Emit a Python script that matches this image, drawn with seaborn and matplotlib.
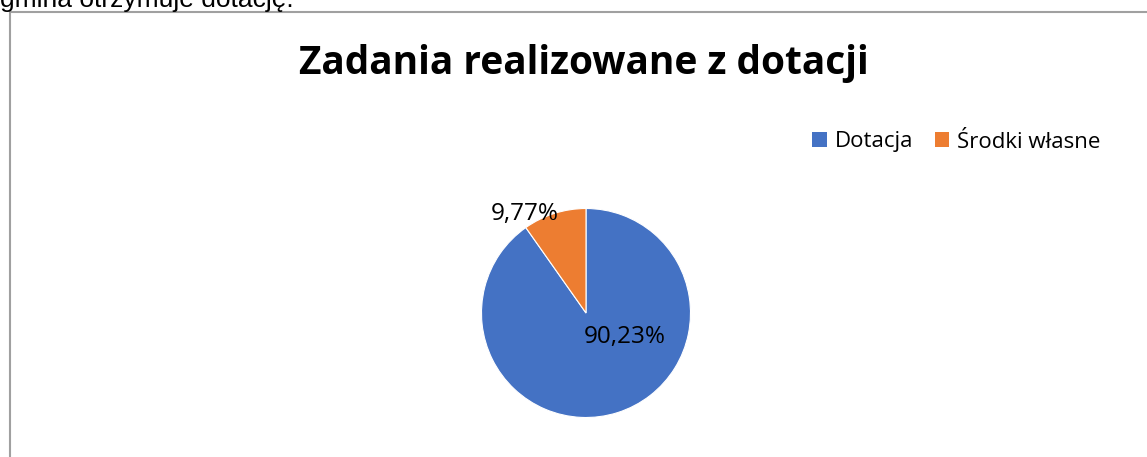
import matplotlib
matplotlib.use("Agg")
import matplotlib.pyplot as plt
from matplotlib.patches import Patch, Rectangle
import seaborn as sns

categories = ["Dotacja", "Środki własne"]
shares = [90.23, 9.77]
share_labels = ["90,23%", "9,77%"]
colors = ["#4472C4", "#ED7D31"]
title = "Zadania realizowane z dotacji"
top_text = "gmina otrzymuje dotację."

sns.set_style("white")
plt.rcParams["font.family"] = ["Open Sans", "DejaVu Sans"]
plt.rcParams["text.color"] = "black"

W, H = 1147, 457
fig = plt.figure(figsize=(W / 100, H / 100), dpi=100)
fig.patch.set_facecolor("white")

# cut-off text line above the chart box
fig.text(0.0, 1 - 7 / H, top_text, family=["Liberation Sans", "DejaVu Sans"],
         fontsize=19, va="baseline", ha="left", color="black")

# chart frame
fig.patches.append(Rectangle((9.5 / W, -0.1), 1.2, 1 - 12.5 / H + 0.1,
                             transform=fig.transFigure, fill=False,
                             edgecolor="#a0a0a0", linewidth=1.5))

fig.text(584 / W, 1 - 74 / H, title, fontsize=28, fontweight="bold",
         ha="center", va="baseline", color="black")

# pie: radius 104.5 px centred at (586, 313)
r = 104.5
ax = fig.add_axes([(586 - r) / W, (H - 313 - r) / H, 2 * r / W, 2 * r / H])
wedges, texts = ax.pie(shares, colors=colors, startangle=90, counterclock=False,
                       labels=share_labels, labeldistance=1.0,
                       wedgeprops=dict(edgecolor="white", linewidth=0.8))
ax.set_xlim(-1, 1)
ax.set_ylim(-1, 1)
ax.set_aspect("equal")
ax.axis("off")

label_pos = [(0.37, -0.23), (-0.59, 0.95)]
for t, pos in zip(texts, label_pos):
    t.set_position(pos)
    t.set_ha("center")
    t.set_va("center")
    t.set_fontsize(17.5)
    t.set_color("black")
    t.set_clip_on(False)

handles = [Patch(facecolor=c, edgecolor="none") for c in colors]
fig.legend(handles, categories, loc="center left",
           bbox_to_anchor=(812 / W, 1 - 142 / H), ncol=2, frameon=False,
           fontsize=16, handlelength=0.67, handleheight=0.67,
           handletextpad=0.36, columnspacing=0.95, borderpad=0, borderaxespad=0,
           labelcolor="black")

fig.savefig("out.png", dpi=100)
